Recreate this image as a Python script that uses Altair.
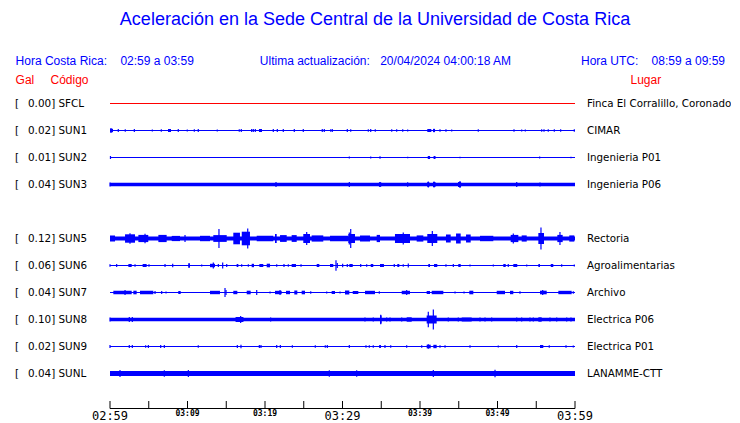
import altair as alt
import pandas as pd

# ---------------- station table ----------------
codes = ["SFCL", "SUN1", "SUN2", "SUN3", "SUN5", "SUN6", "SUN7", "SUN8", "SUN9", "SUNL"]
slots = [0, 1, 2, 3, 5, 6, 7, 8, 9, 10]          # SUN4 slot is empty
peak_gal = ["0.00", "0.02", "0.01", "0.04", "0.12", "0.06", "0.04", "0.10", "0.02", "0.04"]
places = ["Finca El Corralillo, Coronado", "CIMAR", "Ingenieria P01", "Ingenieria P06",
          "Rectoria", "Agroalimentarias", "Archivo", "Electrica P06", "Electrica P01",
          "LANAMME-CTT"]
trace_colors = ["#ff0000"] + ["#0000ff"] * 9
# background (noise) half-amplitude of each trace, relative units
base_amp = [0.5, 0.5, 0.5, 1.8, 1.9, 0.5, 0.5, 1.7, 0.5, 2.6]

# short spikes: (minute after 02:59, half-amplitude)
spikes = {
    "SFCL": [],
    "SUN1": [(0.13, 2.5), (1.07, 1.5), (1.97, 1.2), (3.14, 1.5), (5.46, 1.0), (6.62, 1.3), (8.81, 1.5),
             (9.97, 1.0), (10.88, 1.3), (11.39, 1.5), (13.84, 1.0), (16.68, 1.3), (16.94, 1.5), (18.28, 1.5),
             (18.49, 1.5), (18.75, 1.5), (21.07, 1.5), (21.59, 1.5), (22.36, 1.5), (23.78, 1.5), (24.94, 1.5),
             (27.39, 1.5), (27.65, 1.5), (28.48, 1.3), (28.68, 1.5), (30.62, 1.5), (31.06, 1.2), (33.33, 1.3),
             (33.64, 1.5), (34.23, 1.3), (36.35, 1.3), (36.99, 1.2), (37.77, 1.2), (38.41, 1.0), (41.81, 1.8),
             (42.58, 1.2), (43.35, 1.2), (44.09, 1.0), (47.52, 1.3), (52.13, 1.2), (53.12, 1.0), (53.59, 1.0),
             (55.70, 1.3), (56.00, 1.2), (56.55, 1.2), (57.33, 1.2), (58.15, 1.2), (59.91, 1.2)],
    "SUN2": [(0.06, 1.5), (30.88, 1.0), (33.64, 1.0), (34.84, 1.2), (38.41, 0.8), (45.16, 0.8),
             (55.44, 1.0), (59.48, 0.8)],
    "SUN3": [(0.0, 2.0), (21.42, 2.5), (30.88, 2.5), (34.84, 2.5), (38.41, 2.3), (41.07, 3.0),
             (41.81, 3.0), (45.16, 3.5), (52.48, 2.5), (55.48, 2.0)],
    "SUN5": [(2.58, 5.3), (4.52, 4.8), (9.68, 3.5), (14.06, 9.5), (17.77, 10.0), (25.38, 6.5),
             (30.88, 6.0), (31.06, 9.5), (37.84, 6.0), (41.59, 7.5), (52.04, 5.0), (55.61, 11.0),
             (58.06, 6.5)],
    "SUN6": [(0.0, 1.3), (0.86, 1.5), (3.23, 1.3), (5.03, 1.3), (7.10, 1.5), (8.09, 1.8), (10.2, 2.5),
             (11.83, 1.0), (13.33, 3.0), (13.98, 1.5), (14.54, 3.0), (15.06, 1.5), (16.99, 1.3), (17.85, 1.3),
             (21.51, 1.2), (22.45, 1.5), (23.01, 1.2), (24.65, 1.2), (29.16, 5.3), (29.33, 2.5), (30.02, 1.8),
             (30.62, 1.5), (32.35, 1.5), (33.12, 1.3), (36.68, 1.5), (37.84, 1.3), (38.49, 2.0), (43.35, 1.2),
             (44.30, 1.5), (46.45, 1.0), (49.46, 1.0), (51.39, 1.5), (53.77, 1.0), (58.28, 1.2), (59.91, 1.0)],
    "SUN7": [(1.94, 2.5), (5.81, 1.5), (6.67, 1.5), (7.23, 1.0), (14.84, 4.5), (14.97, 2.5), (18.93, 2.5),
             (20.65, 1.0), (21.94, 2.5), (25.90, 1.3), (27.96, 1.0), (29.68, 1.0), (30.75, 1.0), (34.75, 1.3),
             (38.28, 2.5), (44.52, 1.0), (45.68, 1.0), (52.90, 1.3), (55.83, 2.5), (59.78, 1.3)],
    "SUN8": [(0.0, 2.0), (2.49, 2.5), (2.88, 2.5), (16.34, 2.3), (16.86, 3.5), (17.12, 2.2), (20.73, 2.0),
             (32.90, 2.0), (33.97, 2.0), (34.93, 4.7), (35.70, 2.0), (36.13, 2.0), (37.64, 2.0), (41.07, 7.8),
             (41.72, 10.0), (43.65, 2.0), (44.94, 2.0), (47.74, 2.0), (48.39, 2.0), (49.25, 2.0), (52.48, 2.0),
             (53.12, 2.0), (54.19, 2.0), (54.62, 2.0), (56.77, 2.0), (57.64, 2.0), (58.93, 2.0), (59.48, 2.0)],
    "SUN9": [(0.0, 1.5), (2.49, 1.5), (2.88, 1.5), (4.60, 1.3), (4.95, 1.5), (6.54, 1.5), (7.01, 1.5),
             (11.39, 1.3), (16.43, 1.5), (16.90, 1.8), (19.27, 1.5), (19.48, 1.5), (21.51, 1.5), (21.98, 1.5),
             (23.53, 1.3), (26.49, 1.3), (27.78, 1.3), (28.04, 1.5), (30.88, 1.5), (33.03, 1.3), (33.46, 1.3),
             (33.97, 1.3), (34.84, 1.5), (35.48, 1.5), (36.22, 1.3), (38.28, 1.3), (40.22, 1.3), (41.07, 2.3),
             (42.58, 1.3), (43.23, 1.3), (46.45, 1.3), (50.10, 1.0), (52.48, 1.5), (56.68, 1.3), (58.84, 1.3),
             (59.78, 1.0)],
    "SUNL": [(1.29, 3.5), (7.01, 3.2), (10.11, 3.5), (28.30, 3.2), (31.83, 3.2), (41.72, 3.5), (49.68, 3.8)],
}

# longer bursts: (start minute, end minute, half-amplitude)
bursts = {
    "SFCL": [],
    "SUN1": [(0.0, 0.39, 1.7), (7.48, 7.87, 1.5), (19.22, 19.61, 1.5), (40.94, 41.46, 1.5), (41.68, 41.94, 1.5)],
    "SUN2": [(41.0, 41.3, 1.5), (41.75, 42.0, 1.5)],
    "SUN3": [(34.7, 35.0, 2.2), (40.94, 41.2, 2.5), (41.68, 42.0, 2.5), (44.9, 45.3, 2.5)],
    "SUN5": [(0.0, 0.65, 3.0), (1.94, 3.23, 4.2), (3.66, 4.94, 3.6), (6.24, 7.31, 3.6), (7.96, 9.03, 2.6),
             (11.61, 12.90, 2.7), (13.33, 15.06, 3.4), (15.91, 16.77, 5.8), (17.0, 18.06, 6.8),
             (18.93, 21.07, 2.8), (21.29, 21.51, 4.5), (21.94, 22.80, 3.4), (23.44, 24.09, 3.4),
             (24.94, 25.81, 4.5), (26.02, 27.52, 3.1), (28.39, 30.75, 2.7), (30.75, 31.61, 4.5),
             (32.26, 33.55, 2.9), (34.41, 34.84, 3.6), (36.77, 38.71, 4.5), (39.57, 40.43, 3.1),
             (40.94, 42.23, 4.5), (43.35, 43.96, 4.0), (44.65, 45.25, 5.0), (45.94, 46.54, 4.0),
             (47.74, 49.46, 2.7), (51.70, 52.69, 3.6), (53.12, 53.77, 3.1), (55.27, 56.00, 5.5),
             (57.72, 58.41, 3.6), (59.26, 59.91, 3.1)],
    "SUN6": [(2.37, 2.80, 1.5), (4.21, 4.73, 1.5), (10.11, 10.32, 1.8), (12.90, 13.55, 1.7), (16.34, 16.56, 1.5),
             (18.28, 18.58, 1.7), (19.27, 19.78, 1.5), (20.22, 20.65, 1.8), (23.44, 24.0, 1.5), (26.67, 27.01, 1.5),
             (28.39, 28.81, 1.5), (30.88, 31.32, 1.5), (33.64, 33.97, 1.5), (34.84, 35.35, 1.5), (37.07, 37.33, 1.5),
             (41.07, 41.29, 1.5), (41.81, 42.23, 1.5), (44.94, 45.25, 1.5), (50.75, 51.06, 1.5), (52.04, 52.55, 1.5),
             (55.27, 55.48, 1.5), (56.87, 57.20, 1.5)],
    "SUN7": [(0.43, 2.80, 1.8), (3.01, 3.44, 1.8), (3.87, 5.59, 1.8), (8.81, 9.12, 1.5), (12.90, 14.19, 1.7),
             (15.91, 16.43, 1.7), (17.64, 18.15, 1.8), (21.29, 22.15, 1.7), (22.71, 23.23, 1.7), (23.78, 24.17, 2.0),
             (24.73, 25.16, 1.8), (28.60, 29.03, 1.5), (30.32, 30.88, 2.0), (31.32, 32.04, 1.5), (32.90, 34.19, 1.7),
             (37.64, 38.71, 1.7), (40.86, 41.29, 1.5), (41.51, 43.01, 1.7), (46.36, 46.88, 1.8), (49.90, 50.97, 1.7),
             (51.61, 52.04, 1.7), (55.48, 56.35, 1.8), (57.85, 59.57, 1.7)],
    "SUN8": [(16.2, 17.2, 2.5), (34.84, 35.05, 4.0), (38.28, 38.93, 2.2), (40.86, 42.15, 4.0), (45.38, 46.67, 2.0),
             (55.27, 55.70, 2.2)],
    "SUN9": [(34.75, 34.95, 1.5), (40.86, 41.38, 1.8), (41.72, 42.15, 1.7), (55.48, 55.91, 1.5)],
    "SUNL": [],
}

# time axis
tick_minutes = list(range(0, 61, 5))
label_minutes = [0, 10, 20, 30, 40, 50, 60]
label_texts = ["02:59", "03:09", "03:19", "03:29", "03:39", "03:49", "03:59"]
label_major = [True, False, False, True, False, False, True]

# ---------------- build tables ----------------
ROW = 27  # relative units between trace slots
base_rows, spike_rows, burst_rows, lab_rows = [], [], [], []
for code, slot, gal, place, col, b in zip(codes, slots, peak_gal, places, trace_colors, base_amp):
    yc = slot * ROW
    base_rows.append(dict(code=code, t0=0, t1=60, lo=yc - b, hi=yc + b, color=col))
    for t, h in spikes[code]:
        spike_rows.append(dict(code=code, t=t, lo=yc - h, hi=yc + h, color=col))
    for t0, t1, h in bursts[code]:
        burst_rows.append(dict(code=code, t0=t0, t1=t1, lo=yc - h, hi=yc + h, color=col))
    lab_rows.append(dict(code=code, yc=yc, left=f"{gal}] {code}", place=place))

base_df = pd.DataFrame(base_rows)
spike_df = pd.DataFrame(spike_rows)
burst_df = pd.DataFrame(burst_rows)
lab_df = pd.DataFrame(lab_rows)
tick_df = pd.DataFrame({"t": tick_minutes})
tlab_df = pd.DataFrame({"t": label_minutes, "txt": label_texts, "major": label_major})
axis_df = pd.DataFrame({"t0": [0], "t1": [60]})

xs = alt.Scale(domain=[0, 60], nice=False, zero=False)
ys = alt.Scale(domain=[-13.5, 305.5], reverse=True, nice=False, zero=False)
X = lambda f: alt.X(f, type="quantitative", scale=xs, axis=None)
Y = lambda f: alt.Y(f, type="quantitative", scale=ys, axis=None)

base = alt.Chart(base_df).mark_rect().encode(
    x=X("t0"), x2="t1", y=Y("lo"), y2="hi", color=alt.Color("color:N", scale=None))
bursts_l = alt.Chart(burst_df).mark_rect().encode(
    x=X("t0"), x2="t1", y=Y("lo"), y2="hi", color=alt.Color("color:N", scale=None))
spikes_l = alt.Chart(spike_df).mark_rule(strokeWidth=1.2).encode(
    x=X("t"), y=Y("lo"), y2="hi", color=alt.Color("color:N", scale=None))

lab_font = "DejaVu Sans"
bracket = alt.Chart(lab_df).mark_text(align="left", baseline="middle", font=lab_font, fontSize=10.4,
                                      color="black").encode(
    x=alt.value(-95), y=Y("yc"), text=alt.value("["))
left_lab = alt.Chart(lab_df).mark_text(align="left", baseline="middle", font=lab_font, fontSize=10.4,
                                       color="black").encode(
    x=alt.value(-82), y=Y("yc"), text="left:N")
right_lab = alt.Chart(lab_df).mark_text(align="left", baseline="middle", font=lab_font, fontSize=10.3,
                                        color="black").encode(
    x=alt.value(477), y=Y("yc"), text="place:N")

# time axis drawn with the x scale
axis_line = alt.Chart(axis_df).mark_rule(color="black", strokeWidth=1).encode(
    x=X("t0"), x2="t1", y=alt.value(318.5))
ticks = alt.Chart(tick_df).mark_rule(color="black", strokeWidth=1).encode(
    x=X("t"), y=alt.value(311), y2=alt.value(318.5))
major_lab = alt.Chart(tlab_df).transform_filter("datum.major").mark_text(
    align="center", baseline="middle", font="DejaVu Sans Mono", fontSize=12, color="black").encode(
    x=X("t"), y=alt.value(326), text="txt:N")
minor_lab = alt.Chart(tlab_df).transform_filter("!datum.major").mark_text(
    align="center", baseline="middle", font="DejaVu Sans Mono", fontSize=8, fontWeight="bold",
    color="black").encode(
    x=X("t"), y=alt.value(323.5), text="txt:N")

one = pd.DataFrame({"a": [0]})


def note(txt, x, y, color="#0000ff", size=12, align="left", font="Liberation Sans"):
    return alt.Chart(one).mark_text(align=align, baseline="middle", font=font, fontSize=size,
                                    color=color).encode(x=alt.value(x), y=alt.value(y), text=alt.value(txt))


headers = [
    note("Aceleración en la Sede Central de la Universidad de Costa Rica", 265, -70, size=18, align="center"),
    note("Hora Costa Rica:", -94.4, -29),
    note("02:59 a 03:59", 10.4, -29),
    note("Ultima actualización:", 149.8, -29),
    note("20/04/2024 04:00:18 AM", 270.2, -29),
    note("Hora UTC:", 471, -29),
    note("08:59 a 09:59", 615, -29, align="right"),
    note("Gal", -94.4, -10, color="#ff0000"),
    note("Código", -59.5, -10, color="#ff0000"),
    note("Lugar", 520.5, -10, color="#ff0000"),
]

chart = alt.layer(
    base, bursts_l, spikes_l, bracket, left_lab, right_lab,
    axis_line, ticks, major_lab, minor_lab, *headers
).properties(
    width=465, height=319,
    padding={"left": 102, "top": 82, "right": 156, "bottom": 14},
    autosize=alt.AutoSizeParams(type="none"),
    background="white",
).configure_view(strokeWidth=0)

chart.save("out.html", embed_options={"renderer": "svg", "actions": False})
